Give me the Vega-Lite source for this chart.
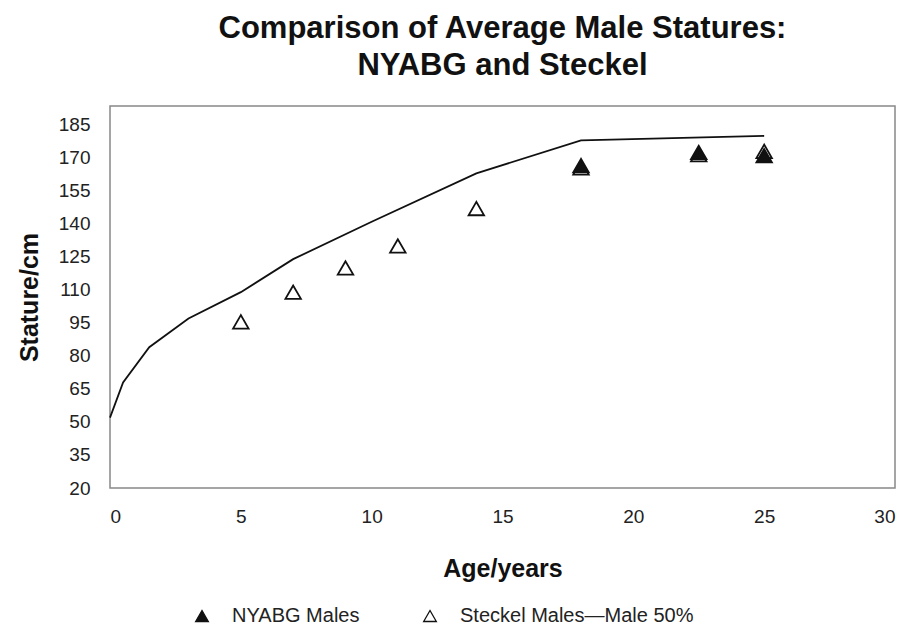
{
  "$schema": "https://vega.github.io/schema/vega-lite/v6.json",
  "width": 785,
  "height": 382,
  "autosize": "none",
  "padding": {"left": 110, "top": 106, "right": 14, "bottom": 138},
  "background": "white",
  "title": {
    "text": ["Comparison of Average Male Statures:", "NYABG and Steckel"],
    "anchor": "middle",
    "font": "Liberation Sans",
    "fontSize": 31,
    "fontWeight": "bold",
    "color": "#111",
    "lineHeight": 37,
    "offset": 24
  },
  "config": {
    "view": {"stroke": "#888", "strokeWidth": 1.5},
    "font": "Liberation Sans"
  },
  "datasets": {
    "curve": [
      {"age": 0, "stature": 52},
      {"age": 0.5, "stature": 68},
      {"age": 1.5, "stature": 84},
      {"age": 3, "stature": 97},
      {"age": 5, "stature": 109},
      {"age": 7, "stature": 124},
      {"age": 10, "stature": 141},
      {"age": 14, "stature": 163},
      {"age": 18, "stature": 178},
      {"age": 25, "stature": 180}
    ],
    "points": [
      {"age": 18, "stature": 166.5, "series": "NYABG Males"},
      {"age": 22.5, "stature": 172.5, "series": "NYABG Males"},
      {"age": 25, "stature": 171, "series": "NYABG Males"},
      {"age": 5, "stature": 95.5, "series": "Steckel Males—Male 50%"},
      {"age": 7, "stature": 109, "series": "Steckel Males—Male 50%"},
      {"age": 9, "stature": 120, "series": "Steckel Males—Male 50%"},
      {"age": 11, "stature": 130, "series": "Steckel Males—Male 50%"},
      {"age": 14, "stature": 147, "series": "Steckel Males—Male 50%"},
      {"age": 18, "stature": 165.5, "series": "Steckel Males—Male 50%"},
      {"age": 22.5, "stature": 171.5, "series": "Steckel Males—Male 50%"},
      {"age": 25, "stature": 173, "series": "Steckel Males—Male 50%"}
    ]
  },
  "encoding": {
    "x": {
      "field": "age",
      "type": "quantitative",
      "scale": {"domain": [0, 30], "nice": false, "zero": false},
      "axis": {
        "values": [0, 5, 10, 15, 20, 25, 30],
        "title": "Age/years",
        "grid": false,
        "ticks": false,
        "domain": false,
        "labelFont": "Liberation Sans",
        "labelFontSize": 19,
        "labelColor": "#222",
        "labelPadding": 19,
        "titleFont": "Liberation Sans",
        "titleFontSize": 25,
        "titleFontWeight": "bold",
        "titleColor": "#111",
        "titlePadding": 30
      }
    },
    "y": {
      "field": "stature",
      "type": "quantitative",
      "scale": {"domain": [20, 193.6], "nice": false, "zero": false},
      "axis": {
        "values": [20, 35, 50, 65, 80, 95, 110, 125, 140, 155, 170, 185],
        "title": "Stature/cm",
        "grid": false,
        "ticks": false,
        "domain": false,
        "labelFont": "Liberation Sans",
        "labelFontSize": 19,
        "labelColor": "#222",
        "labelPadding": 20,
        "titleFont": "Liberation Sans",
        "titleFontSize": 25,
        "titleFontWeight": "bold",
        "titleColor": "#111",
        "titlePadding": 16
      }
    }
  },
  "layer": [
    {
      "data": {"name": "curve"},
      "mark": {"type": "line", "color": "#111", "strokeWidth": 1.8},
      "encoding": {}
    },
    {
      "data": {"name": "points"},
      "mark": {"type": "point", "shape": "triangle-up", "size": 240, "filled": true, "stroke": "#111", "strokeWidth": 1.8, "opacity": 1},
      "encoding": {
        "fill": {
          "field": "series",
          "type": "nominal",
          "scale": {"domain": ["NYABG Males", "Steckel Males—Male 50%"], "range": ["#111", "white"]},
          "legend": {
            "title": null,
            "orient": "none",
            "direction": "horizontal",
            "legendX": 82,
            "legendY": 500,
            "symbolType": "triangle-up",
            "symbolSize": 160,
            "symbolStrokeColor": "#111",
            "symbolStrokeWidth": 1.3,
            "labelFont": "Liberation Sans",
            "labelFontSize": 20,
            "labelColor": "#222",
            "labelOffset": 20,
            "labelLimit": 400,
            "columnPadding": 60
          }
        },
        "order": {"field": "series", "sort": "descending"}
      }
    }
  ]
}
